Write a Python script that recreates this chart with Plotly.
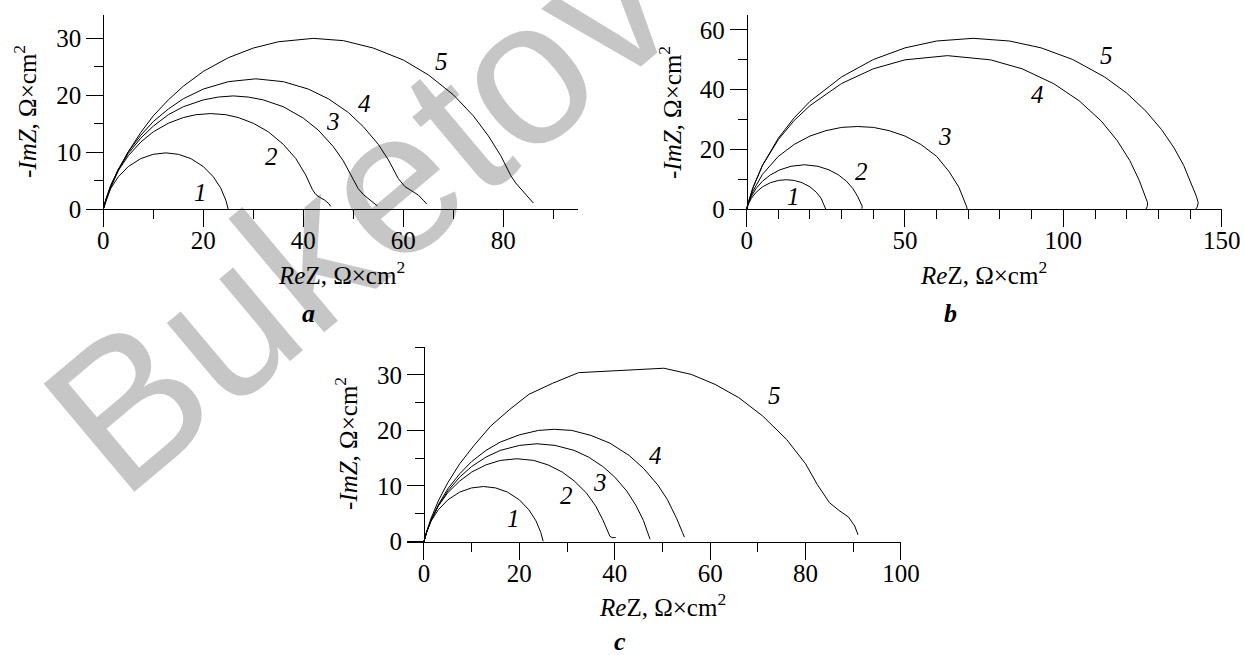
import plotly.graph_objects as go

# ---------------- data ----------------
# Panel a
A1_x = [0, 0.5, 1.5, 3, 5, 7.5, 10, 12.5, 15, 17.5, 20, 22, 23.5, 24.5, 25]
A1_y = [0, 1.6, 3.7, 5.7, 7.5, 8.9, 9.65, 9.9, 9.65, 8.9, 7.5, 5.7, 3.7, 1.6, 0]
A2_x = [0, 0.5, 1.5, 3, 5, 7.5, 10, 13, 16, 18.5, 21.5, 24.5, 27, 30, 33, 36, 38.5, 40.5, 41.8, 42.5, 43.3, 44.3, 45.1, 45.5]
A2_y = [0, 1.7, 4.2, 6.8, 9.4, 11.8, 13.6, 15.1, 16.1, 16.6, 16.8, 16.6, 16.1, 15.1, 13.6, 11.4, 8.9, 6.0, 3.5, 2.6, 2.1, 1.6, 1.0, 0.5]
A3_x = [0, 0.5, 1.5, 3, 5, 7.5, 10, 13, 16, 20, 23, 26, 29, 32, 36, 40, 43, 46, 48, 50, 51, 52, 53.2, 54.3, 54.8]
A3_y = [0, 1.65, 4.2, 7.0, 9.8, 12.5, 14.6, 16.6, 18.0, 19.2, 19.7, 19.9, 19.7, 19.2, 18.0, 16.0, 13.9, 11.0, 8.5, 5.2, 3.6, 2.6, 1.8, 1.0, 0.6]
A4_x = [0, 0.5, 1.5, 3, 5, 7.5, 10, 13, 16, 20, 25, 30.5, 36, 41, 45, 49, 52, 55, 57, 59, 60.3, 61.5, 63, 64, 64.7]
A4_y = [0, 1.6, 4.1, 7.0, 10.1, 13.0, 15.4, 17.6, 19.4, 21.1, 22.4, 22.9, 22.4, 21.1, 19.4, 17.0, 14.5, 11.4, 8.7, 5.4, 4.0, 3.3, 2.5, 1.6, 0.9]
A5_x = [0, 0.5, 1.5, 3, 5, 7.5, 10, 13, 16, 20, 25, 30, 35, 42, 48, 54, 60, 65, 70, 74, 77, 79.5, 81.5, 82.5, 83.5, 84.5, 85.3, 86]
A5_y = [0, 1.4, 3.8, 6.8, 10.1, 13.5, 16.4, 19.2, 21.6, 24.2, 26.6, 28.3, 29.4, 30.0, 29.6, 28.3, 26.2, 23.6, 20.1, 16.4, 12.9, 9.4, 5.9, 4.6, 3.6, 2.7, 1.9, 1.1]

# Panel b
B1_x = [0, 0.5, 1.5, 3, 5, 7.5, 10, 12.5, 15, 17.5, 20, 22, 23.5, 24.5, 25]
B1_y = [0, 1.6, 3.7, 5.7, 7.5, 8.9, 9.65, 9.9, 9.65, 8.9, 7.5, 5.7, 3.7, 1.6, 0]
B2_x = [0, 0.5, 1.5, 3, 5, 7.5, 10.5, 14, 18.25, 22.5, 26, 29, 31.5, 33.5, 35, 36, 36.5, 36.4]
B2_y = [0, 1.9, 4.4, 7.0, 9.4, 11.5, 13.2, 14.4, 14.9, 14.4, 13.2, 11.5, 9.4, 7.0, 4.4, 2.2, 1.0, 0.2]
B3_x = [0, 0.5, 2, 5, 10, 15, 20, 25, 30, 35, 40, 45, 50, 55, 60, 64, 67, 68.8, 69.5, 69.6]
B3_y = [0, 1.95, 6.1, 11.7, 17.7, 21.7, 24.5, 26.3, 27.4, 27.7, 27.4, 26.3, 24.5, 21.7, 17.7, 12.5, 7.4, 2.9, 0.8, 0]
B4_x = [0, 0.5, 2, 5, 10, 15, 20, 30, 40, 50, 63.4, 77, 87, 97, 105, 112, 117, 121, 124, 125.8, 126.6, 126.5, 126.1]
B4_y = [0, 2.2, 7.3, 14.7, 23.3, 29.7, 34.7, 42.1, 47.0, 50.0, 51.4, 50.0, 47.0, 42.0, 36.3, 29.5, 23.0, 16.3, 9.6, 4.8, 2.2, 0.9, 0]
B5_x = [0, 0.5, 2, 5, 10, 15, 20, 30, 40, 50, 60, 71.5, 83, 93, 103, 113, 120, 126, 131, 135, 138, 140.5, 142, 142.6, 142.3, 141.8]
B5_y = [0, 2.1, 7.2, 14.7, 23.8, 30.6, 36.1, 44.3, 50.1, 54.0, 56.3, 57.2, 56.3, 54.0, 50.1, 44.3, 38.9, 32.9, 26.7, 20.5, 14.7, 8.6, 4.4, 2.2, 0.8, 0]

# Panel c
C1_x = [0, 0.5, 1.5, 3, 5, 7.5, 10, 12.5, 15, 17.5, 20, 22, 23.5, 24.5, 25]
C1_y = [0, 1.6, 3.7, 5.7, 7.5, 8.9, 9.65, 9.9, 9.65, 8.9, 7.5, 5.7, 3.7, 1.6, 0]
C2_x = [0, 0.5, 1.5, 3, 5, 7.5, 10, 13, 16, 19.5, 23, 26, 29, 31.5, 34, 36, 37.5, 38.5, 39.0, 39.5, 40.2]
C2_y = [0, 1.6, 3.9, 6.4, 8.8, 10.9, 12.5, 13.8, 14.6, 14.9, 14.6, 13.8, 12.5, 10.9, 8.8, 6.4, 3.9, 2.0, 0.9, 0.7, 0.7]
C3_x = [0, 0.5, 1.5, 3, 5, 7.5, 10, 13, 16, 20, 23.7, 27.5, 31.5, 34.5, 37.5, 40, 42.5, 44.5, 46, 47, 47.4]
C3_y = [0, 1.5, 3.8, 6.4, 9.1, 11.6, 13.5, 15.2, 16.4, 17.3, 17.6, 17.3, 16.4, 15.2, 13.5, 11.6, 9.1, 6.4, 3.8, 1.5, 0.4]
C4_x = [0, 0.5, 1.5, 3, 5, 7.5, 10, 13, 16, 20, 24, 27.3, 31, 35, 39, 43, 46, 49, 51, 53, 54.2, 54.6]
C4_y = [0, 1.5, 3.9, 6.6, 9.5, 12.2, 14.4, 16.4, 17.9, 19.2, 20.0, 20.2, 20.0, 19.1, 17.7, 15.5, 13.2, 10.2, 7.6, 4.1, 1.6, 0.8]
C5_x = [0, 0.5, 1.5, 3, 5, 7.5, 10.5, 14, 18, 22, 27, 32.4, 50.3, 56, 61, 66, 71, 76, 80, 82.5, 85, 87, 89, 90.3, 91]
C5_y = [0, 1.6, 4.2, 7.3, 10.6, 14.0, 17.3, 20.8, 23.8, 26.5, 28.5, 30.4, 31.2, 30.1, 28.3, 25.9, 22.6, 18.4, 14.0, 10.2, 7.0, 5.6, 4.4, 2.8, 1.2]

curve_names = ["1", "2", "3", "4", "5"]
A_lab_x = [19.5, 33.7, 46.0, 52.3, 67.6]
A_lab_y = [2.9, 9.2, 15.4, 18.6, 25.9]
B_lab_x = [14.9, 36.4, 62.6, 91.7, 113.6]
B_lab_y = [4.2, 12.6, 24.3, 38.3, 51.6]
C_lab_x = [18.7, 29.9, 36.8, 48.6, 73.5]
C_lab_y = [4.2, 8.3, 10.7, 15.4, 26.2]

panel_letters = ["a", "b", "c"]
x_title = "<i>Re</i>Z, Ω×cm<sup>2</sup>"
y_title = "-<i>ImZ</i>, Ω×cm<sup>2</sup>"
watermark = "Buketov"

# ---------------- figure ----------------
W, H = 1244, 655
SERIF = "Times New Roman, Liberation Serif, serif"

def px(v):
    return v / W

def py(v):
    return 1 - v / H

fig = go.Figure()

panels = [
    ("x", "y", [(A1_x, A1_y), (A2_x, A2_y), (A3_x, A3_y), (A4_x, A4_y), (A5_x, A5_y)], A_lab_x, A_lab_y),
    ("x2", "y2", [(B1_x, B1_y), (B2_x, B2_y), (B3_x, B3_y), (B4_x, B4_y), (B5_x, B5_y)], B_lab_x, B_lab_y),
    ("x3", "y3", [(C1_x, C1_y), (C2_x, C2_y), (C3_x, C3_y), (C4_x, C4_y), (C5_x, C5_y)], C_lab_x, C_lab_y),
]

annotations = []
for xa, ya, curves, lx, ly in panels:
    for (cx, cy), nm in zip(curves, curve_names):
        fig.add_trace(go.Scatter(x=cx, y=cy, xaxis=xa, yaxis=ya, mode="lines",
                                 line=dict(color="black", width=1), showlegend=False,
                                 hoverinfo="skip"))
    for tx, ty, nm in zip(lx, ly, curve_names):
        annotations.append(dict(x=tx, y=ty, xref=xa, yref=ya, text="<i>%s</i>" % nm,
                                showarrow=False, font=dict(family=SERIF, size=25, color="black"),
                                xanchor="center", yanchor="middle"))

def axstyle(**kw):
    d = dict(showline=True, linecolor="black", linewidth=1, ticks="outside", ticklen=17,
             tickwidth=1, tickcolor="black", showgrid=False, zeroline=False, automargin=False,
             tickfont=dict(family=SERIF, size=25, color="black"), tick0=0, fixedrange=True)
    d.update(kw)
    return d

def minor(dt):
    return dict(ticks="outside", ticklen=9, tickwidth=1, tickcolor="black", dtick=dt, showgrid=False)

fig.update_layout(
    xaxis=axstyle(domain=[px(85.8), px(578.3)], range=[-3.5, 95], dtick=20, minor=minor(10),
                  anchor="y", ticklabelstandoff=-8),
    yaxis=axstyle(domain=[py(209.3), py(15)], range=[0, 34.1], dtick=10, minor=minor(5),
                  anchor="free", position=px(103.3)),
    xaxis2=axstyle(domain=[px(728.6), px(1221.7)], range=[-5.7, 150.01], dtick=50, minor=minor(10),
                   anchor="y2", ticklabelstandoff=-8),
    yaxis2=axstyle(domain=[py(209.3), py(15)], range=[0, 65], dtick=20, minor=minor(10),
                   anchor="free", position=px(746.7)),
    xaxis3=axstyle(domain=[px(406.8), px(901)], range=[-3.6, 100.01], dtick=20, minor=minor(10),
                   anchor="y3", ticklabelstandoff=-8),
    yaxis3=axstyle(domain=[py(541.5), py(347)], range=[0, 35.02], dtick=10, minor=minor(5),
                   anchor="free", position=px(424)),
)

title_pos = [
    ((341.7, 273), (25, 112), (308, 314)),
    ((983, 273), (670, 112), (950, 314)),
    ((662, 605), (346, 444), (620, 641)),
]
for (xt, yt, lt), letter in zip(title_pos, panel_letters):
    annotations.append(dict(x=px(xt[0]), y=py(xt[1]), xref="paper", yref="paper", text=x_title,
                            showarrow=False, font=dict(family=SERIF, size=25, color="black"),
                            xanchor="center", yanchor="middle"))
    annotations.append(dict(x=px(yt[0]), y=py(yt[1]), xref="paper", yref="paper", text=y_title,
                            textangle=-90, showarrow=False,
                            font=dict(family=SERIF, size=25, color="black"),
                            xanchor="center", yanchor="middle"))
    annotations.append(dict(x=px(lt[0]), y=py(lt[1]), xref="paper", yref="paper",
                            text="<b><i>%s</i></b>" % letter, showarrow=False,
                            font=dict(family=SERIF, size=26, color="black"),
                            xanchor="center", yanchor="middle"))

fig.update_layout(annotations=annotations)

# watermark drawn beneath the plots
fig.add_shape(type="rect", xref="paper", yref="paper",
              x0=px(337), x1=px(357), y0=py(205), y1=py(185),
              line=dict(width=0), fillcolor="rgba(0,0,0,0)", layer="below",
              label=dict(text=watermark, textangle=-40, textposition="middle center",
                         font=dict(family="Liberation Sans", size=205, color="#c6c6c6")))

fig.update_layout(
    width=W, height=H, autosize=False,
    margin=dict(l=0, r=0, t=0, b=0, pad=0),
    paper_bgcolor="white", plot_bgcolor="rgba(0,0,0,0)",
    showlegend=False,
)

fig.write_html("out.html", config={"displayModeBar": False, "staticPlot": True},
               post_script="document.body.style.margin='0px';document.body.style.overflow='hidden';")
